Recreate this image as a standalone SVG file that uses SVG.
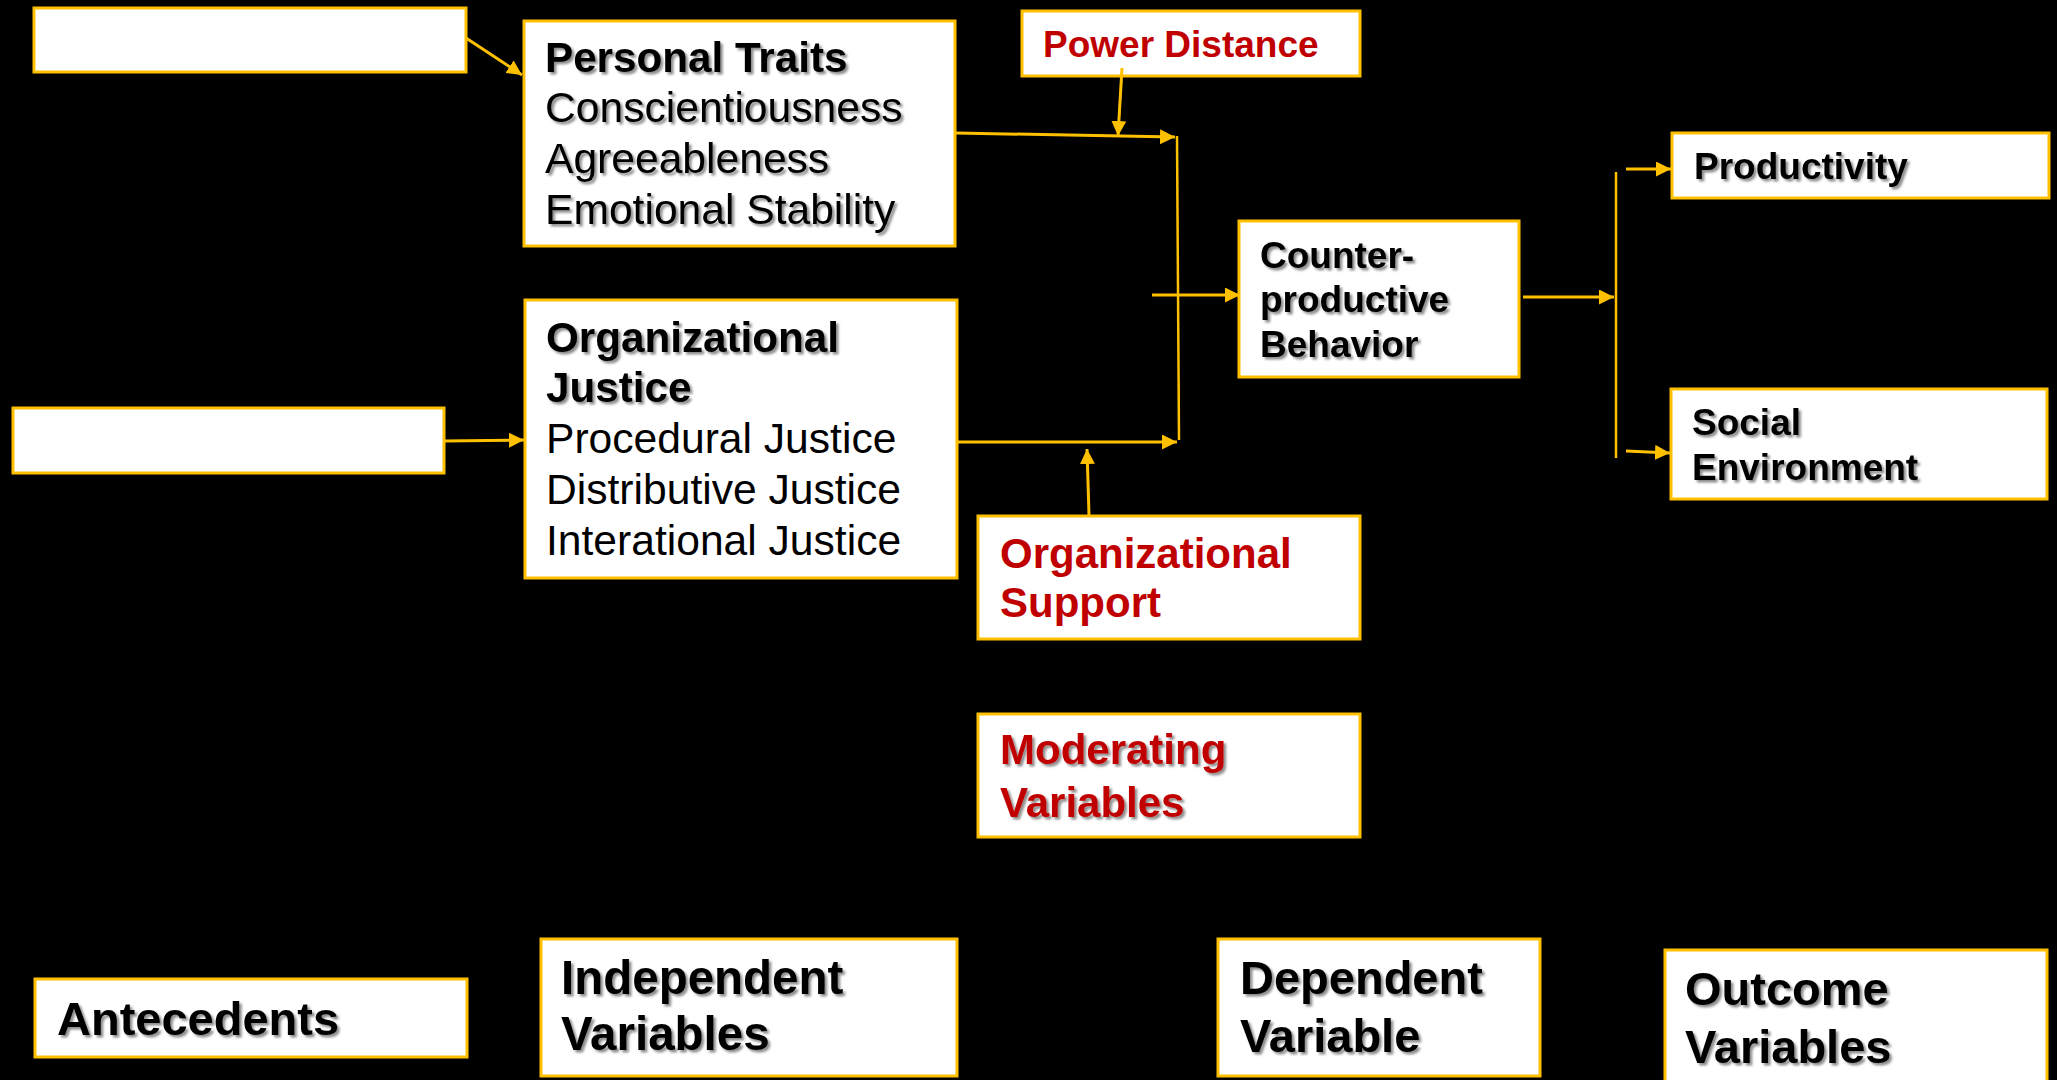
<svg xmlns="http://www.w3.org/2000/svg" width="2057" height="1080" viewBox="0 0 2057 1080">
<style>
.box{fill:#FFFFFF;stroke:#FFC000;stroke-width:3}
.t{font-family:"Liberation Sans",Arial,sans-serif;fill:#000000}
.b{font-weight:bold}
.red{fill:#C00000}
.con{stroke:#FFC000;stroke-width:3;fill:none}
.bar{stroke:#FFC000;stroke-width:2.5;fill:none}
</style>
<defs>
<marker id="ah" markerUnits="userSpaceOnUse" markerWidth="16" markerHeight="15" refX="15" refY="7.5" orient="auto">
<path d="M0,0 L15,7.5 L0,15 z" fill="#FFC000"/>
</marker>
<filter id="sh" x="-5%" y="-20%" width="110%" height="140%">
<feDropShadow dx="2.5" dy="2.5" stdDeviation="1.2" flood-color="#000000" flood-opacity="0.45"/>
</filter>
</defs>
<rect x="0" y="0" width="2057" height="1080" fill="#000000"/>

<g id="antecedent-box-1"><rect class="box" x="34" y="8" width="432" height="64"/></g>
<g id="antecedent-box-2"><rect class="box" x="13" y="408" width="431" height="65"/></g>

<g id="personal-traits">
<rect class="box" x="524" y="21" width="431" height="225"/>
<g filter="url(#sh)">
<text class="t b" x="545" y="72" font-size="42.2">Personal Traits</text>
<text class="t" x="545" y="122" font-size="42.6">Conscientiousness</text>
<text class="t" x="545" y="173" font-size="42.6">Agreeableness</text>
<text class="t" x="545" y="224" font-size="42.6">Emotional Stability</text>
</g>
</g>

<g id="organizational-justice">
<rect class="box" x="525" y="300" width="432" height="278"/>
<g filter="url(#sh)">
<text class="t b" x="546" y="352" font-size="42.2">Organizational</text>
<text class="t b" x="546" y="402" font-size="42.2">Justice</text>
</g>
<text class="t" x="546" y="453" font-size="42.6">Procedural Justice</text>
<text class="t" x="546" y="504" font-size="42.6">Distributive Justice</text>
<text class="t" x="546" y="555" font-size="42.6">Interational Justice</text>
</g>

<g id="power-distance">
<rect class="box" x="1022" y="11" width="338" height="65"/>
<text class="t b red" x="1043" y="57" font-size="37">Power Distance</text>
</g>

<g id="counterproductive-behavior">
<rect class="box" x="1239" y="221" width="280" height="156"/>
<g filter="url(#sh)">
<text class="t b" x="1260" y="268" font-size="37">Counter-</text>
<text class="t b" x="1260" y="312" font-size="37">productive</text>
<text class="t b" x="1260" y="357" font-size="37">Behavior</text>
</g>
</g>

<g id="productivity">
<rect class="box" x="1672" y="133" width="377" height="65"/>
<text class="t b" x="1694" y="179" font-size="37" filter="url(#sh)">Productivity</text>
</g>

<g id="social-environment">
<rect class="box" x="1671" y="389" width="376" height="110"/>
<g filter="url(#sh)">
<text class="t b" x="1692" y="435" font-size="37">Social</text>
<text class="t b" x="1692" y="480" font-size="37">Environment</text>
</g>
</g>

<g id="organizational-support">
<rect class="box" x="978" y="516" width="382" height="123"/>
<text class="t b red" x="1000" y="568" font-size="42">Organizational</text>
<text class="t b red" x="1000" y="617" font-size="42">Support</text>
</g>

<g id="moderating-variables">
<rect class="box" x="978" y="714" width="382" height="123"/>
<g filter="url(#sh)">
<text class="t b red" x="1000" y="764" font-size="42">Moderating</text>
<text class="t b red" x="1000" y="817" font-size="42">Variables</text>
</g>
</g>

<g id="antecedents-label">
<rect class="box" x="35" y="979" width="432" height="78"/>
<text class="t b" x="57" y="1035" font-size="47" filter="url(#sh)">Antecedents</text>
</g>

<g id="independent-variables-label">
<rect class="box" x="541" y="939" width="416" height="137"/>
<g filter="url(#sh)">
<text class="t b" x="561" y="994" font-size="47.5">Independent</text>
<text class="t b" x="561" y="1050" font-size="47.5">Variables</text>
</g>
</g>

<g id="dependent-variable-label">
<rect class="box" x="1218" y="939" width="322" height="137"/>
<g filter="url(#sh)">
<text class="t b" x="1240" y="994" font-size="47">Dependent</text>
<text class="t b" x="1240" y="1052" font-size="47">Variable</text>
</g>
</g>

<g id="outcome-variables-label">
<rect class="box" x="1665" y="950" width="382" height="140"/>
<g filter="url(#sh)">
<text class="t b" x="1685" y="1005" font-size="47">Outcome</text>
<text class="t b" x="1685" y="1063" font-size="47">Variables</text>
</g>
</g>

<g id="connectors">
<line class="con" x1="466" y1="38" x2="522" y2="75" marker-end="url(#ah)"/>
<line class="con" x1="444" y1="441" x2="524" y2="440" marker-end="url(#ah)"/>
<line class="con" x1="956" y1="133" x2="1175" y2="137" marker-end="url(#ah)"/>
<line class="con" x1="957" y1="442" x2="1177" y2="442" marker-end="url(#ah)"/>
<line class="bar" x1="1177" y1="136" x2="1179" y2="440"/>
<line class="con" x1="1122" y1="68" x2="1118" y2="136" marker-end="url(#ah)"/>
<line class="con" x1="1089" y1="515" x2="1087" y2="449" marker-end="url(#ah)"/>
<line class="con" x1="1152" y1="295" x2="1240" y2="295" marker-end="url(#ah)"/>
<line class="con" x1="1523" y1="297" x2="1614" y2="297" marker-end="url(#ah)"/>
<line class="bar" x1="1616" y1="172" x2="1616" y2="458"/>
<line class="con" x1="1626" y1="169" x2="1671" y2="169" marker-end="url(#ah)"/>
<line class="con" x1="1626" y1="451" x2="1670" y2="453" marker-end="url(#ah)"/>
</g>
</svg>
